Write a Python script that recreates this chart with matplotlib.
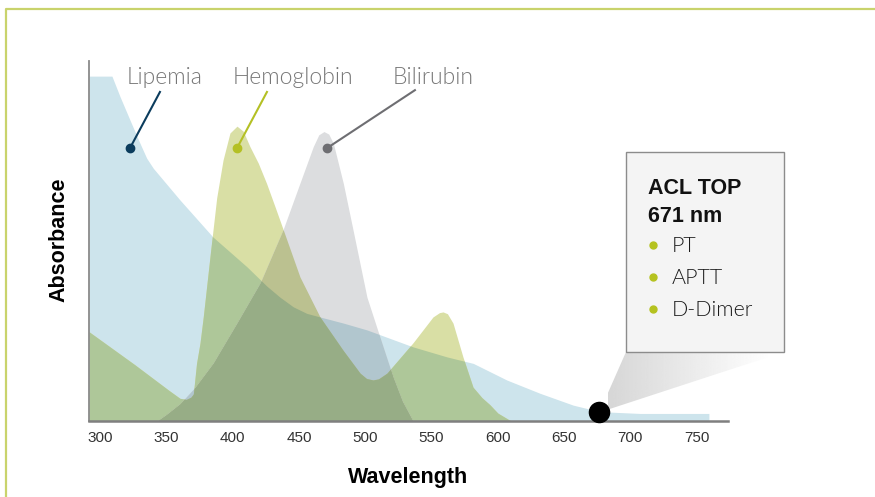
import numpy as np
import matplotlib
matplotlib.use('Agg')
import matplotlib.pyplot as plt
from matplotlib.patches import Polygon, Rectangle
from matplotlib.lines import Line2D

# absorbance curves (wavelength nm, relative absorbance)
lip_x = [291.7, 309.0, 315.1, 322.6, 330.2, 335.2, 340.2, 360.3, 385.2, 410.9, 425.7,
         435.7, 445.8, 455.9, 465.9, 483.5, 501.3, 536.0, 561.7, 581.5, 606.7, 631.8,
         656.9, 677.0, 707.2, 759.2]
lip_y = [0.958, 0.958, 0.901, 0.836, 0.771, 0.730, 0.702, 0.614, 0.511, 0.428, 0.375,
         0.344, 0.317, 0.299, 0.289, 0.272, 0.253, 0.206, 0.178, 0.160, 0.114, 0.077,
         0.044, 0.026, 0.021, 0.021]

hem_x = [291.7, 326.0, 352.0, 360.3, 365.0, 368.5, 370.4, 372.8, 375.4, 377.9, 383.5,
         388.0, 392.8, 398.0, 403.3, 408.0, 413.1, 419.4, 425.6, 432.0, 438.2, 450.8,
         465.9, 483.2, 496.1, 501.0, 505.9, 510.0, 516.4, 536.0, 551.1, 556.0, 558.7,
         562.0, 566.2, 573.7, 581.3, 588.0, 594.1, 600.0, 610.0]
hem_y = [0.248, 0.157, 0.085, 0.063, 0.060, 0.066, 0.075, 0.160, 0.216, 0.290, 0.475,
         0.620, 0.725, 0.800, 0.819, 0.805, 0.762, 0.716, 0.660, 0.595, 0.531, 0.400,
         0.289, 0.197, 0.133, 0.118, 0.114, 0.117, 0.133, 0.217, 0.289, 0.301, 0.303,
         0.298, 0.272, 0.178, 0.094, 0.065, 0.045, 0.022, 0.0]

bil_x = [343.0, 350.0, 360.3, 372.0, 385.4, 403.1, 420.7, 438.0, 450.8, 460.8, 465.0,
         468.9, 472.5, 476.0, 483.5, 490.8, 501.3, 511.1, 521.0, 528.0, 536.0]
bil_y = [0.0, 0.018, 0.048, 0.095, 0.161, 0.271, 0.383, 0.531, 0.661, 0.762, 0.795,
         0.804, 0.797, 0.771, 0.660, 0.531, 0.344, 0.233, 0.122, 0.055, 0.0]

names = ['Lipemia', 'Hemoglobin', 'Bilirubin']
name_x = [320.4, 400.3, 521.0]
pin_x = [322.6, 403.3, 471.2]
pin_end_x = [345.2, 425.9, 537.5]
pin_end_y = [0.914, 0.914, 0.919]
pin_colors = ['#0b3c5d', '#b4c024', '#6e6e72']

ticks = [300, 350, 400, 450, 500, 550, 600, 650, 700, 750]
acl_x, acl_y = 676.6, 0.024
tests = ['PT', 'APTT', 'D-Dimer']

c_lip = np.array([205, 228, 236]) / 255
c_hem = np.array([217, 223, 165]) / 255
c_bil = np.array([220, 221, 223]) / 255

xmin, xmax = 291.7, 773.6
bold_font = 'Liberation Sans'

fig = plt.figure(figsize=(8.75, 4.97), dpi=100)
ax = fig.add_axes([89/875, 1-421/497, 639/875, 360/497])

# outer frame (top + left line)
fig.add_artist(Line2D([6/875, 6/875, 1], [0, 1-9/497, 1-9/497], transform=fig.transFigure,
                      color='#c9d36c', lw=1.6))

# multiply-style overlaps: paint each layer then its intersections
grid = np.linspace(xmin, xmax, 3000)
fa = np.interp(grid, lip_x, lip_y, left=0, right=0)
fb = np.interp(grid, hem_x, hem_y, left=0, right=0)
fc = np.interp(grid, bil_x, bil_y, left=0, right=0)

ax.fill_between(lip_x, lip_y, color=c_lip, lw=0)
ax.fill_between(hem_x, hem_y, color=c_hem, lw=0)
ax.fill_between(grid, np.minimum(fa, fb), color=c_lip*c_hem, lw=0)
ax.fill_between(bil_x, bil_y, color=c_bil, lw=0)
ax.fill_between(grid, np.minimum(fa, fc), color=c_lip*c_bil, lw=0)
ax.fill_between(grid, np.minimum(fb, fc), color=c_hem*c_bil, lw=0)
ax.fill_between(grid, np.minimum(np.minimum(fa, fb), fc), color=c_lip*c_hem*c_bil, lw=0)

# callout labels
for i in range(3):
    ax.plot([pin_x[i], pin_end_x[i]], [0.758, pin_end_y[i]], color=pin_colors[i], lw=1.5, zorder=3)
    ax.plot(pin_x[i], 0.758, 'o', color=pin_colors[i], ms=6, zorder=3)
    ax.text(name_x[i], 0.936, names[i], color='#777777', fontsize=16.5, family='Lato',
            weight=300, va='baseline')

# grey wedge from the 671 nm point to the box
wedge = Polygon([(acl_x, acl_y), (696.7, 0.192), (816, 0.192)], closed=True,
                transform=ax.transData)
grad = np.linspace(0.84, 1.0, 256).reshape(1, -1)
im = ax.imshow(grad, extent=[683, 806, 0.02, 0.193], aspect='auto', cmap='gray',
               vmin=0, vmax=1, zorder=4, interpolation='bilinear')
im.set_clip_path(wedge)
im.set_clip_box(fig.bbox)

ax.add_patch(Rectangle((696.7, 0.192), 119.1, 0.555, fc='#f4f4f4', ec='#8c8c8c', lw=1,
                       clip_on=False, zorder=5))
ax.text(713.3, 0.631, 'ACL TOP', fontsize=15.5, weight='bold', family=bold_font,
        color='#111111', va='baseline', zorder=6)
ax.text(713.3, 0.553, '671 nm', fontsize=15.5, weight='bold', family=bold_font,
        color='#111111', va='baseline', zorder=6)
for i, t in enumerate(tests):
    yb = 0.469 - i*0.0885
    ax.plot(717.0, yb + 0.02, 'o', color='#b5c21f', ms=5, clip_on=False, zorder=6)
    ax.text(731.4, yb, t, fontsize=15.5, family='Lato', weight=300, color='#1a1a1a',
            va='baseline', zorder=6)

ax.plot(acl_x, acl_y, 'o', color='black', ms=14.5, zorder=6, clip_on=False)

ax.set_xlim(xmin, xmax)
ax.set_ylim(0, 1)
ax.set_xticks(ticks)
ax.set_xticklabels([str(t) for t in ticks], family='Liberation Sans', fontsize=11,
                   color='#333333')
ax.tick_params(axis='x', length=0, pad=7)
ax.set_yticks([])
for s in ['top', 'right']:
    ax.spines[s].set_visible(False)
ax.spines['bottom'].set_color('#7f7f7f')
ax.spines['bottom'].set_linewidth(1.8)
ax.spines['left'].set_color('#8a8a8a')
ax.spines['left'].set_linewidth(1.3)

ax.text(-0.047, 0.503, 'Absorbance', transform=ax.transAxes, rotation=90, ha='center',
        va='center', fontsize=15.5, weight='bold', family=bold_font)
ax.text(0.499, -0.158, 'Wavelength', transform=ax.transAxes, ha='center', va='center',
        fontsize=15.5, weight='bold', family=bold_font)

fig.savefig('out.png', dpi=100)
